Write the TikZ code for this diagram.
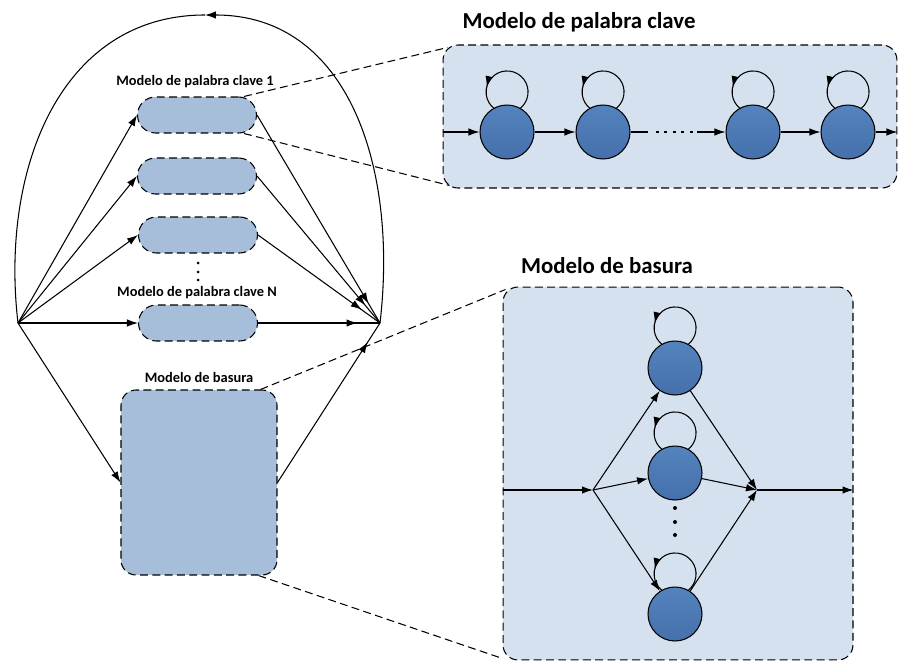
\documentclass[tikz,border=0pt]{standalone}
\usepackage{fontspec}
\setmainfont{Carlito}
\usetikzlibrary{arrows.meta,calc,decorations.markings}

\definecolor{pildoracol}{HTML}{A7BEDA}
\definecolor{fondocol}{HTML}{D5E1EE}
\definecolor{estadoarriba}{HTML}{5483BD}
\definecolor{estadoabajo}{HTML}{4570AB}

\tikzset{
  linea/.style={line width=0.6pt},
  flecha/.style={line width=0.6pt,-{Latex[length=2.2mm,width=1.5mm]}},
  flechacerca/.style={line width=0.6pt,
    decoration={markings,mark=at position -0.45cm with {\arrow{Latex[length=2.2mm,width=1.5mm]}}},
    postaction={decorate}},
  bucle/.style={line width=0.6pt,
    decoration={markings,mark=at position 0.77 with {\arrow{Latex[length=2.2mm,width=1.5mm]}}},
    postaction={decorate}},
  discont/.style={line width=0.6pt,dash pattern=on 4.5pt off 2.5pt},
  pildora/.style={draw,discont,fill=pildoracol,rounded corners=0.36cm,
    minimum width=2.38cm,minimum height=0.72cm},
  caja/.style={draw,discont,fill=#1,rounded corners=0.3cm},
  estado/.style={circle,draw,line width=0.6pt,top color=estadoarriba,bottom color=estadoabajo,
    minimum size=1.08cm,inner sep=0pt},
  titulo/.style={font=\fontsize{13}{15}\selectfont\bfseries},
  etiqueta/.style={font=\fontsize{8.2}{10}\selectfont\bfseries}
}

\begin{document}
\begin{tikzpicture}[x=0.02cm,y=0.02cm]
\useasboundingbox (0,0) rectangle (903,664);

% esquema general
\coordinate (L) at (18,341);
\coordinate (R) at (380,341);
\coordinate (T) at (205,649);

\node[pildora] (k1) at (197,549) {};
\node[pildora] (k2) at (197,488) {};
\node[pildora] (k3) at (198,429) {};
\node[pildora] (kn) at (198,341) {};
\node[caja=pildoracol,minimum width=3.12cm,minimum height=3.7cm] (g) at (199,181.5) {};

\node[etiqueta] (lk1) at (195,582) {Modelo de palabra clave 1};
\node[etiqueta] (lkn) at (197,371) {Modelo de palabra clave N};
\node[etiqueta] (lg) at (199,287) {Modelo de basura};

\foreach \y in {401,392,384}
  \fill (198,\y) circle (1.5);

\draw[flecha] (R) .. controls (398,494) and (350,649) .. (T);
\draw[linea] (T) .. controls (60,649) and (0,494) .. (L);

\foreach \k in {k1,k2,k3,kn}{
  \draw[flecha] (L) -- (\k.west);
  \draw[flechacerca] (\k.east) -- (R);
}
\draw[flecha] (L) -- (g.west);
\draw[flechacerca] (g.east) -- (R);

% modelo de palabra clave
\node[caja=fondocol,minimum width=9.08cm,minimum height=2.86cm] (kbox) at (670,547.5) {};
\node[titulo] (tk) at (579,642) {Modelo de palabra clave};

\node[estado] (p1) at (507,532) {};
\node[estado] (p2) at (603,532) {};
\node[estado] (p3) at (753,532) {};
\node[estado] (p4) at (848,532) {};
\coordinate (d1) at (648,532);
\coordinate (d2) at (697,532);

\draw[flecha] (kbox.west |- p1) -- (p1);
\draw[flecha] (p1) -- (p2);
\draw[linea] (p2) -- (d1);
\draw[line width=1.7pt,dash pattern=on 1.7pt off 3.1pt] ($(d1)+(8,0)$) -- ($(d2)+(-3,0)$);
\draw[flecha] (d2) -- (p3);
\draw[flecha] (p3) -- (p4);
\draw[flecha] (p4) -- (kbox.east |- p4);

% modelo de basura
\node[caja=fondocol,minimum width=7cm,minimum height=7.46cm] (bbox) at (678,190.5) {};
\node[titulo] (tb) at (607,398) {Modelo de basura};

\node[estado] (b1) at (675,296) {};
\node[estado] (b2) at (675,191) {};
\node[estado] (b3) at (675,50) {};
\coordinate (S) at (593,174);
\coordinate (M) at (757,174);

\draw[flecha] (bbox.west |- S) -- (S);
\foreach \b in {b1,b2,b3}{
  \draw[flecha] (S) -- (\b);
  \draw[flecha] (\b) -- (M);
}
\draw[flecha] (M) -- (bbox.east |- M);

\foreach \y in {156,142,129}
  \fill (675,\y) circle (2);

\foreach \s in {p1,p2,p3,p4,b1,b2,b3}
  \draw[bucle] ($(\s)+(13,23.5)$) arc[start angle=-52,end angle=232,radius=21];

% lineas de ampliacion
\draw[discont] ($(k1.north east)+(-13,0)$) -- ($(kbox.north west)+(5,-3)$);
\draw[discont] ($(k1.south east)+(-13,0)$) -- ($(kbox.south west)+(7,3)$);
\draw[discont] ($(g.north east)+(-17,0)$) -- ($(bbox.north west)+(3,-3)$);
\draw[discont] ($(g.south east)+(-19,0)$) -- ($(bbox.south west)+(0,2)$);
\end{tikzpicture}
\end{document}
